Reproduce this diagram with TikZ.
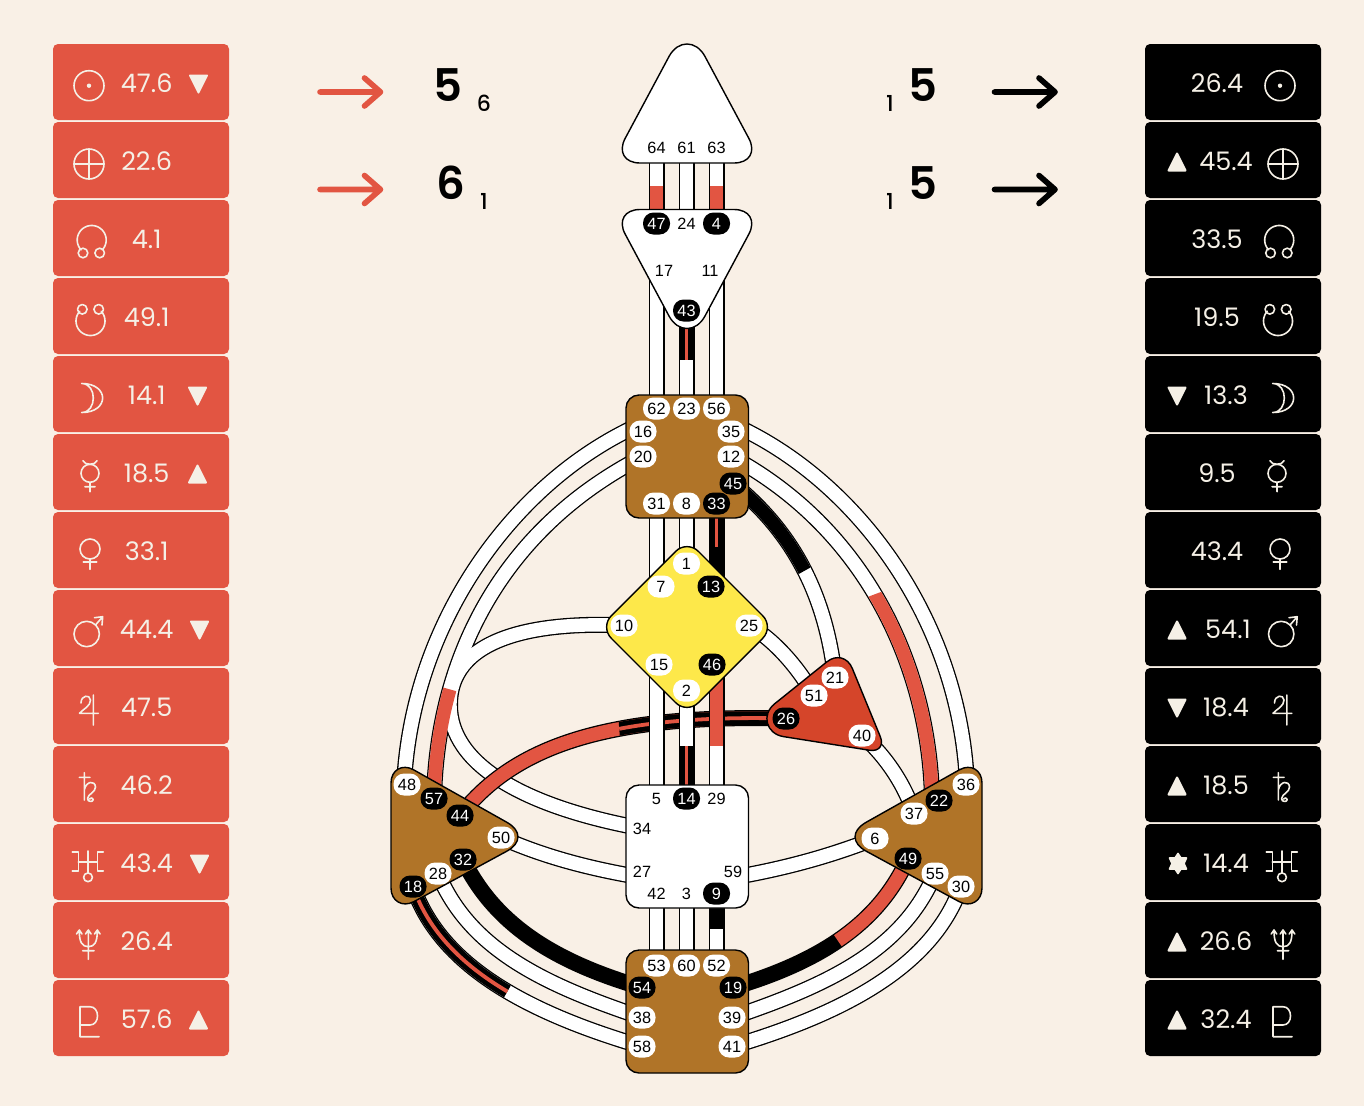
\documentclass[tikz,border=0pt]{standalone}
\usepackage{fontspec}
\setmainfont{Liberation Sans}
\newfontfamily\panelfont{Poppins}
\newfontfamily\bigfont{Poppins SemiBold}
\newfontfamily\smallfont{Poppins Medium}
\usetikzlibrary{calc}
\definecolor{bgc}{HTML}{F9F0E6}
\definecolor{redc}{HTML}{E25542}
\definecolor{brownc}{HTML}{B07428}
\definecolor{yellowc}{HTML}{FDE84A}
\definecolor{heartc}{HTML}{D5452A}
\definecolor{creamc}{HTML}{F5F0E6}
\pgfdeclarelayer{paper}
\pgfdeclarelayer{chan}
\pgfdeclarelayer{centers}
\pgfsetlayers{paper,chan,centers,main}
\tikzset{
  gatebase/.style={rectangle,rounded corners=10.5pt,minimum width=27pt,minimum height=22pt,inner sep=0pt,yshift=-0.5pt,font=\fontsize{16.3}{16.3}\selectfont},
  gw/.style={gatebase,fill=white,text=black},
  gb/.style={gatebase,fill=black,text=white},
  gp/.style={gatebase,text=black},
  bout/.style={draw=black,line width=16pt,line cap=butt},
  bfill/.style={draw=white,line width=13.4pt,line cap=butt},
  bred/.style={draw=redc,line width=13.4pt,line cap=butt},
  bblk/.style={draw=black,line width=13.4pt,line cap=butt},
  stripe/.style={draw=redc,line width=3.8pt,line cap=butt},
  center shape/.style={draw=black,line width=1.4pt,line join=round},
  panelL/.style={rectangle,fill=redc,rounded corners=5pt,minimum width=176pt,minimum height=76pt,inner sep=0pt},
  panelR/.style={rectangle,fill=black,rounded corners=5pt,minimum width=176pt,minimum height=76pt,inner sep=0pt},
  val/.style={text=creamc,inner sep=0pt,font=\panelfont\fontsize{25.5}{25.5}\selectfont},
  bigd/.style={text=black,inner sep=0pt,font=\bigfont\fontsize{45}{45}\selectfont},
  smalld/.style={text=black,inner sep=0pt,font=\smallfont\fontsize{22}{22}\selectfont},
  sym/.style={draw=creamc,line width=1.6pt,line join=round,line cap=round},
  arw/.style={line width=5.6pt,line cap=round,line join=round},
}
% ---- triangles
\newcommand\tridown[2]{\filldraw[creamc,line width=2pt,line join=round] (#1-8.5,#2-8.5) -- (#1+8.5,#2-8.5) -- (#1,#2+8.5) -- cycle;}
\newcommand\triup[2]{\filldraw[creamc,line width=2pt,line join=round] (#1-8.5,#2+8.5) -- (#1+8.5,#2+8.5) -- (#1,#2-8.5) -- cycle;}
\newcommand\arcp[5]{plot[domain=#4:#5,samples=40,smooth] ({#1+#3*cos(\x)},{#2+#3*sin(\x)})}
% ---- planet symbols, drawn at the left panel positions
\newcommand\symSun{\draw[sym] (89,85.7) circle (15); \fill[creamc] (89,85.7) circle (2.2);}
\newcommand\symEarth{\draw[sym] (89,164) circle (15); \draw[sym] (74,164) -- (104,164) (89,149) -- (89,179);}
\newcommand\symNorth{\draw[sym] \arcp{91.7}{240}{14.5}{137}{403}; \draw[sym] (83,253) circle (4.8) (99.7,253) circle (4.8);}
\newcommand\symSouth{\draw[sym] \arcp{90.5}{321}{14.5}{-42}{222}; \draw[sym] (82.3,309.3) circle (4.8) (98.7,309.3) circle (4.8);}
\newcommand\symMoon{\draw[sym] (81.7,383.5) .. controls (109.6,383.5) and (109.6,412.5) .. (81.7,412.5) .. controls (97.2,412.5) and (97.2,383.5) .. (81.7,383.5) -- cycle;}
\newcommand\symMercury{\draw[sym] (90,473.3) circle (9); \draw[sym] (90,482.3) -- (90,491.7) (85,486.7) -- (95,486.7) (83,460.7) .. controls (84.5,465.5) and (95.5,465.5) .. (97,460.7);}
\newcommand\symVenus{\draw[sym] (90,549) circle (10); \draw[sym] (90,559) -- (90,569.3) (83.3,561.7) -- (96.7,561.7);}
\newcommand\symMars{\draw[sym] (86.7,634) circle (12.7); \draw[sym] (95.5,625) -- (102.7,616.7) (94.5,617.7) -- (102.7,616.7) -- (102,625);}
\newcommand\symJupiter{\draw[sym] (93.3,695) -- (93.3,725) (81,703) .. controls (81,695) and (90,694) .. (90.5,700) .. controls (91,706) and (82,710) .. (79.5,713.3) -- (98.3,713.3);}
\newcommand\symSaturn{\draw[sym] (84.3,772.7) -- (84.3,800) (79.3,777.3) -- (90,777.3) (84.3,790) .. controls (86,781) and (95,780) .. (95.5,787) .. controls (95.7,792) and (88,794) .. (87.5,798.5) .. controls (87.4,802) and (93,802.5) .. (93.3,799.5) .. controls (93.3,797.5) and (90,797.5) .. (89.5,799);}
\newcommand\symUranus{\draw[sym] (88,851) -- (88,873) (78.3,861.7) -- (97.3,861.7) (72.3,851.7) -- (78.3,851.7) -- (78.3,870.7) -- (72.3,870.7) (103.3,851.7) -- (97.3,851.7) -- (97.3,870.7) -- (103.3,870.7); \draw[sym] (88,877.3) circle (4.4);}
\newcommand\symNeptune{\draw[sym] (88.3,930) -- (88.3,959.3) (82.7,950.7) -- (94,950.7) (79.3,931) .. controls (79.3,942) and (82,946.7) .. (88.3,946.7) .. controls (94.6,946.7) and (97.3,942) .. (97.3,931) (76.5,934) -- (79.3,930) -- (82,934) (85.5,934) -- (88.3,930) -- (91.1,934) (94.5,934) -- (97.3,930) -- (100.1,934);}
\newcommand\symPluto{\draw[sym] (99,1036.7) -- (80,1036.7) -- (80,1006.7) -- (90,1006.7) .. controls (100,1006.7) and (100,1025) .. (90,1025) -- (80,1025);}
% ---- curved channel paths
\newcommand\pOutL{([shift={(-3,0)}]g48.center) .. controls (412,620) and (516,480) .. ([shift={(-3,-7)}]g16.center)}
\newcommand\pInL{(g57.center) .. controls (437,660) and (500,530) .. (g20.center)}
\newcommand\pTenL{(g10.center) .. controls (555,622) and (450,630) .. (450,705) .. controls (450,765) and (525,807) .. (g34.center)}
\newcommand\pFifty{(g50.center) .. controls (540,855) and (585,868) .. ([shift={(0,6)}]g27.center)}
\newcommand\pEighteen{(g18.center) .. controls (440,965) and (525,1012) .. (g58.center)}
\newcommand\pTwentyEight{(g28.center) .. controls (470,950) and (545,985) .. (g38.center)}
\newcommand\pThirtyTwo{(g32.center) .. controls (495,925) and (555,962) .. (g54.center)}
\newcommand\pOutR{([shift={(1,0)}]g36.center) .. controls (960,620) and (857,480) .. ([shift={(2,-7)}]g35.center)}
\newcommand\pInR{([shift={(-7,0)}]g22.center) .. controls (930,670) and (868,530) .. (g12.center)}
\newcommand\pSix{(g6.center) .. controls (833,855) and (788,868) .. ([shift={(0,6)}]g59.center)}
\newcommand\pThirty{(g30.center) .. controls (933,965) and (848,1012) .. (g41.center)}
\newcommand\pFiftyFive{(g55.center) .. controls (903,950) and (828,985) .. (g39.center)}
\newcommand\pFortyNine{(g49.center) .. controls (878,925) and (818,962) .. (g19.center)}
\newcommand\pTwentyFive{(g25.center) .. controls (775,640) and (800,670) .. (g51.center)}
\newcommand\pForty{(g40.center) .. controls (885,755) and (905,785) .. (g37.center)}
\newcommand\pTwentyOne{(g45.center) .. controls (790,530) and (825,590) .. (g21.center)}
\newcommand\pFortyFour{(g44.center) .. controls (515,745) and (610,714) .. (g26.center)}
\begin{document}
\begin{tikzpicture}[x=1pt,y=-1pt]
\useasboundingbox (0,0) rectangle (1364,1106);
\begin{pgfonlayer}{paper}
\fill[bgc] (0,0) rectangle (1364,1106);
\end{pgfonlayer}

% panels
\foreach \i in {0,...,12} {
  \node[panelL] (pl\i) at (141,{82+78*\i}) {};
  \node[panelR] (pr\i) at (1233,{82+78*\i}) {};
}
\foreach \i/\v in {0/47.6,1/22.6,2/4.1,3/49.1,4/14.1,5/18.5,6/33.1,7/44.4,8/47.5,9/46.2,10/43.4,11/26.4,12/57.6}
  \node[val] (tl\i) at (146.7,{83+78*\i}) {\v};
\foreach \i/\x/\v in {0/1217/26.4,1/1226/45.4,2/1217/33.5,3/1217/19.5,4/1226/13.3,5/1217/9.5,6/1217/43.4,7/1228/54.1,8/1226/18.4,9/1226/18.5,10/1226/14.4,11/1226/26.6,12/1226/32.4}
  \node[val] (tr\i) at (\x,{83+78*\i}) {\v};

% markers
\tridown{198.5}{84}
\tridown{197.5}{396}
\triup{197.5}{474}
\tridown{199.5}{630}
\tridown{199.5}{864}
\triup{198.5}{1020}
\triup{1177}{162}
\tridown{1177}{396}
\triup{1177}{630}
\tridown{1177}{708}
\triup{1177}{786}
\triup{1177}{942}
\triup{1177}{1020}
\filldraw[creamc,line width=1.6pt,line join=round]
  (1178,853.5) -- (1181,858) -- (1186.5,858) -- (1184,863.5) -- (1186.5,869) -- (1181,869) -- (1178,873.5) -- (1175,869) -- (1169.5,869) -- (1172,863.5) -- (1169.5,858) -- (1175,858) -- cycle;

% planet symbols
\symSun \symEarth \symNorth \symSouth \symMoon \symMercury \symVenus \symMars \symJupiter \symSaturn \symUranus \symNeptune \symPluto
\begin{scope}[shift={(1191,0)}]\symSun\end{scope}
\begin{scope}[shift={(1194,0)}]\symEarth\end{scope}
\begin{scope}[shift={(1187.5,0)}]\symNorth\end{scope}
\begin{scope}[shift={(1187.5,0)}]\symSouth\end{scope}
\begin{scope}[shift={(1191,0)}]\symMoon\end{scope}
\begin{scope}[shift={(1187,0)}]\symMercury\end{scope}
\begin{scope}[shift={(1190,0)}]\symVenus\end{scope}
\begin{scope}[shift={(1194.5,0)}]\symMars\end{scope}
\begin{scope}[shift={(1193.5,0)}]\symJupiter\end{scope}
\begin{scope}[shift={(1194,0)}]\symSaturn\end{scope}
\begin{scope}[shift={(1194,0)}]\symUranus\end{scope}
\begin{scope}[shift={(1194.7,0)}]\symNeptune\end{scope}
\begin{scope}[shift={(1193,0)}]\symPluto\end{scope}

% arrows and digits
\coordinate (ar1a) at (320,92); \coordinate (ar1b) at (380.5,92);
\coordinate (ar2a) at (320,189.5); \coordinate (ar2b) at (380.5,189.5);
\coordinate (ak1a) at (994.5,92); \coordinate (ak1b) at (1055,92);
\coordinate (ak2a) at (994.5,189.5); \coordinate (ak2b) at (1055,189.5);
\foreach \a/\b/\c in {ar1a/ar1b/redc,ar2a/ar2b/redc,ak1a/ak1b/black,ak2a/ak2b/black}
  \draw[arw,draw=\c] (\a) -- (\b) ([shift={(-16,-14)}]\b) -- (\b) -- ([shift={(-16,14)}]\b);
\node[bigd] (d1) at (448,85) {5};
\node[smalld] (d2) at (484,103) {6};
\node[bigd] (d3) at (451,183) {6};
\node[smalld] (d4) at (484,201) {1};
\node[smalld] (d5) at (890,103) {1};
\node[bigd] (d6) at (923,85) {5};
\node[smalld] (d7) at (890,201) {1};
\node[bigd] (d8) at (923,183) {5};

% gates
\foreach \n/\x/\y in {64/656.5/147,61/686.5/147,63/716.5/147,24/686.5/223,17/664/270,11/710/270,5/656.5/798,29/716.5/798,34/642/828,27/642/871,59/733/871,42/656.5/893,3/686.5/893}
  \node[gp] (g\n) at (\x,\y) {\n};
\foreach \n/\x/\y in {47/656.5/223,4/716.5/223,43/686.5/310,45/733/483,33/716.5/503,13/711/586,46/712/664,26/786/718,14/686.5/798,9/716.5/893,54/642/987,19/733/987,57/434/798,44/460/815,32/463/859,18/413/886,22/939/800,49/908/858}
  \node[gb] (g\n) at (\x,\y) {\n};
\foreach \n/\x/\y in {62/656.5/408,23/686.5/408,56/716.5/408,16/643/431,35/731/431,20/643/456,12/731/456,31/656.5/503,8/686.5/503,1/686.5/563,7/661/586,10/624/625,25/749/625,15/659/664,2/686.5/690,21/835/677,51/814/695,40/862/735,53/656.5/965,60/686.5/965,52/716.5/965,38/642/1017,39/732/1017,58/642/1046,41/732/1046,48/407/784,50/501/837,28/438/873,36/966/784,37/914/813,6/875/838,55/935/873,30/961/886}
  \node[gw] (g\n) at (\x,\y) {\n};

% centres
\begin{pgfonlayer}{centers}
  \path[center shape,fill=white] (640,163) .. controls (624.6,163) and (617.9,151.9) .. (625.2,138.3) -- (669,56.5) .. controls (678,39.8) and (696,39.8) .. (705,56.5) -- (748.8,138.3) .. controls (756.1,151.9) and (749.4,163) .. (734,163) -- cycle;
  \path[center shape,fill=white] (640,209.5) .. controls (624.6,209.5) and (617.9,220.6) .. (625.2,234.2) -- (669,316) .. controls (678,332.7) and (696,332.7) .. (705,316) -- (748.8,234.2) .. controls (756.1,220.6) and (749.4,209.5) .. (734,209.5) -- cycle;
  \path[center shape,fill=brownc,rounded corners=13pt] (626,456) -- (626,395) -- (748.5,395) -- (748.5,518) -- (626,518) -- cycle;
  \path[center shape,fill=yellowc,rounded corners=16pt] (643.5,583.5) -- (687,540) -- (774,627) -- (687,714) -- (600,627) -- cycle;
  \path[center shape,fill=white,rounded corners=13pt] (626,846) -- (626,785) -- (748.5,785) -- (748.5,908) -- (626,908) -- cycle;
  \path[center shape,fill=brownc,rounded corners=13pt] (626,1011) -- (626,950) -- (748.5,950) -- (748.5,1073) -- (626,1073) -- cycle;
  \path[center shape,fill=brownc] (391,783) .. controls (391,770) and (402.3,763.4) .. (413.6,769.8) -- (506.9,822.3) .. controls (521.7,830.7) and (521.7,843.1) .. (506.6,851.3) -- (413.9,901.6) .. controls (402.4,907.8) and (391,901) .. (391,888) -- cycle;
  \path[center shape,fill=brownc] (982,783) .. controls (982,770) and (970.7,763.4) .. (959.4,769.8) -- (866.1,822.3) .. controls (851.3,830.7) and (851.3,843.1) .. (866.4,851.3) -- (959.1,901.6) .. controls (970.6,907.8) and (982,901) .. (982,888) -- cycle;
  \path[center shape,fill=heartc] (774.7,703.7) -- (826.9,661.8) .. controls (836.3,654.2) and (847.7,657.2) .. (852.3,668.4) -- (880.2,736.4) .. controls (884,745.6) and (879,751.8) .. (869.2,750.2) -- (783.5,736.6) .. controls (766.1,733.8) and (761,714.7) .. (774.7,703.7) -- cycle;
\end{pgfonlayer}

% channels
\coordinate (cutA) at (0,186);
\coordinate (cutB) at (0,360);
\coordinate (cutC) at (0,547);
\coordinate (cutD) at (0,746);
\coordinate (cutE) at (0,929);
\begin{pgfonlayer}{chan}
  \foreach \p in {\pOutL,\pInL,\pTenL,\pFifty,\pEighteen,\pTwentyEight,\pThirtyTwo,\pOutR,\pInR,\pSix,\pThirty,\pFiftyFive,\pFortyNine,\pTwentyFive,\pForty,\pTwentyOne}
    {\draw[bout] \p;}
  \foreach \p in {\pOutL,\pInL,\pTenL,\pFifty,\pEighteen,\pTwentyEight,\pOutR,\pInR,\pSix,\pThirty,\pFiftyFive,\pTwentyFive,\pForty,\pTwentyOne}
    {\draw[bfill] \p;}
  \draw[bblk] \pThirtyTwo;
  \draw[bblk] \pFortyNine;
  \begin{scope}
    \clip (400,675.6) -- (480,697.7) -- (480,830) -- (400,830) -- cycle;
    \draw[bred] \pInL;
  \end{scope}
  \begin{scope}
    \clip (850,603.6) -- (910,581) -- (960,830) -- (900,830) -- cycle;
    \draw[bred] \pInR;
  \end{scope}
  \begin{scope}
    \clip (813.5,905) -- (866,982) -- (950,900) -- (920,820) -- (850,830) -- cycle;
    \draw[bred] \pFortyNine;
  \end{scope}
  \begin{scope}
    \clip (527.6,956) -- (487.7,1026) -- (380,1000) -- (380,860) -- (527.6,860) -- cycle;
    \draw[bblk] \pEighteen;
    \draw[stripe] \pEighteen;
  \end{scope}
  \begin{scope}
    \clip (788,580) -- (822,561) -- (850,450) -- (700,450) -- (700,600) -- cycle;
    \draw[bblk] \pTwentyOne;
  \end{scope}
  % gate 44 to gate 26
  \draw[bout] \pFortyFour;
  \draw[bred] \pFortyFour;
  \begin{scope}
    \clip (617,700) -- (620.5,745) -- (800,745) -- (800,700) -- cycle;
    \draw[bblk] \pFortyFour;
    \draw[stripe] \pFortyFour;
  \end{scope}
  % vertical channels
  \foreach \a/\b in {g64/g47,g61/g24,g63/g4,g23/g43,g8/g1,g33/g13,g5/g15,g14/g2,g29/g46,g42/g53,g3/g60,g9/g52}
    {\draw[bout] (\a.center) -- (\a.center |- \b.center); \draw[bfill] (\a.center) -- (\a.center |- \b.center);}
  \draw[bout] (g62.center) -- (g62.center |- g17.center);
  \draw[bfill] (g62.center) -- (g62.center |- g17.center);
  \draw[bout] (g56.center) -- (g56.center |- g11.center);
  \draw[bfill] (g56.center) -- (g56.center |- g11.center);
  \draw[bout] (g31.center) -- (g31.center |- g7.center);
  \draw[bfill] (g31.center) -- (g31.center |- g7.center);
  % activated parts of the vertical channels
  \draw[bred] (g47.center) -- (g47.center |- cutA);
  \draw[bred] (g4.center) -- (g4.center |- cutA);
  \draw[bblk] (g43.center) -- (g43.center |- cutB);
  \draw[stripe] (g43.center) -- (g43.center |- cutB);
  \draw[bblk] (g33.center) -- (g33.center |- g13.center);
  \draw[stripe] (g33.center) -- (g33.center |- cutC);
  \draw[bred] (g29.center |- g46.center) -- (g29.center |- cutD);
  \draw[bblk] (g14.center) -- (g14.center |- cutD);
  \draw[stripe] (g14.center) -- (g14.center |- cutD);
  \draw[bblk] (g9.center) -- (g9.center |- cutE);
\end{pgfonlayer}
\end{tikzpicture}
\end{document}
